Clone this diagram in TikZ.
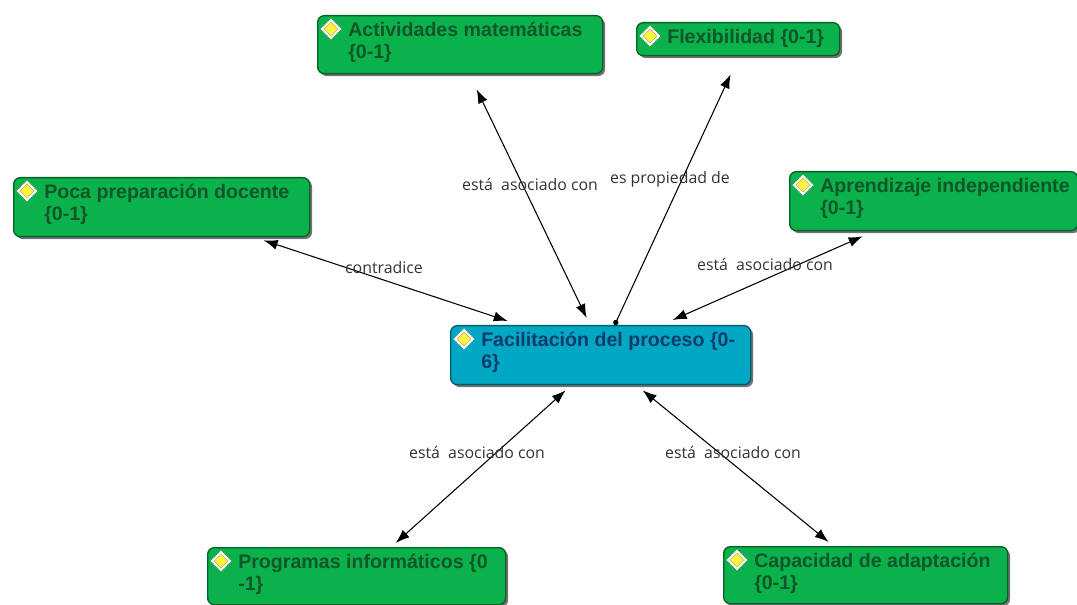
\documentclass[tikz,border=0pt]{standalone}
\usepackage{fontspec}
\setmainfont{Liberation Sans}
\newfontfamily\linkfont{Open Sans}
\usetikzlibrary{calc,shapes.geometric,arrows.meta,shadows}
\definecolor{boxgreen}{HTML}{0BB14A}
\definecolor{boxteal}{HTML}{02A8C3}
\definecolor{textgreen}{HTML}{10562A}
\definecolor{textblue}{HTML}{0C3B6E}
\definecolor{linkgrey}{HTML}{333333}
\def\px{0.75pt}
\tikzset{
    x=0.75pt,y=-0.75pt,
    concept/.style={draw=#1!55!black,fill=#1,line width=1pt,rounded corners=5pt,anchor=north west,inner sep=0pt,
        drop shadow={shadow xshift=1.8pt,shadow yshift=-1.8pt,opacity=.55,fill=black}},
    conceptlabel/.style={anchor=north west,inner sep=0pt,align=left,font=\bfseries\fontsize{14.7}{16.6}\selectfont},
    iconback/.style={diamond,draw=black!70,densely dotted,fill=white,inner sep=0pt,minimum size=16pt},
    iconfront/.style={diamond,fill=yellow!75!white,draw=yellow!60!black,line width=.3pt,inner sep=0pt,minimum size=10.5pt},
    link/.style={line width=.8pt,{Latex[length=10.5pt,width=7.5pt]}-{Latex[length=10.5pt,width=7.5pt]}},
    linklabel/.style={inner sep=0pt,text=linkgrey,font=\linkfont\fontsize{11.9}{14}\selectfont},
}
\newcommand{\conceptbox}[8]{
    \node[concept=#6,minimum width=#4*\px,minimum height=#5*\px] (#1) at (#2,#3) {};
    \node[iconback] (#1-iconback) at ([shift={(14,14)}]#1.north west) {};
    \node[iconfront] (#1-icon) at (#1-iconback) {};
    \node[conceptlabel,text=#7] (#1-text) at ([shift={(31,7)}]#1.north west) {#8};
}
\begin{document}
\begin{tikzpicture}
    \useasboundingbox (0,0) rectangle (1077,605);
    \conceptbox{poca}{13}{177}{296}{59}{boxgreen}{textgreen}{Poca preparación docente\\\{0-1\}}
    \conceptbox{actividades}{317}{15}{285}{58}{boxgreen}{textgreen}{Actividades matemáticas\\\{0-1\}}
    \conceptbox{flexibilidad}{636}{22}{203}{33}{boxgreen}{textgreen}{Flexibilidad \{0-1\}}
    \conceptbox{aprendizaje}{789}{171}{288}{59}{boxgreen}{textgreen}{Aprendizaje independiente\\\{0-1\}}
    \conceptbox{facilitacion}{450}{325}{300}{59}{boxteal}{textblue}{Facilitación del proceso \{0-\\6\}}
    \conceptbox{programas}{207}{547}{298}{57}{boxgreen}{textgreen}{Programas informáticos \{0\\-1\}}
    \conceptbox{capacidad}{723}{546}{284}{57}{boxgreen}{textgreen}{Capacidad de adaptación\\\{0-1\}}
    \draw[link] ([shift={(102,3)}]poca.south) -- ([shift={(-93,-4)}]facilitacion.north);
    \draw[link] ([shift={(16.5,15)}]actividades.south) -- ([shift={(-14,-7)}]facilitacion.north);
    \draw[line width=.8pt,{Circle[length=4pt]}-{Latex[length=10.5pt,width=7.5pt]}] ([shift={(14,0)}]facilitacion.north) -- ([shift={(-7.5,18)}]flexibilidad.south);
    \draw[link] ([shift={(-71,5)}]aprendizaje.south) -- ([shift={(72,-5)}]facilitacion.north);
    \draw[link] ([shift={(39,-4)}]programas.north) -- ([shift={(-35,5)}]facilitacion.south);
    \draw[link] ([shift={(-37,-4)}]capacidad.north) -- ([shift={(42,5)}]facilitacion.south);
    \node[linklabel] (contradice) at (384,268) {contradice};
    \node[linklabel] (propiedad) at (670,179) {es propiedad de};
    \foreach \lname/\lx/\ly in {a/530/185,b/765/265,c/477/452,d/733/452}
    \node[linklabel] (asociado-\lname) at (\lx,\ly) {está \ asociado con};
\end{tikzpicture}
\end{document}
